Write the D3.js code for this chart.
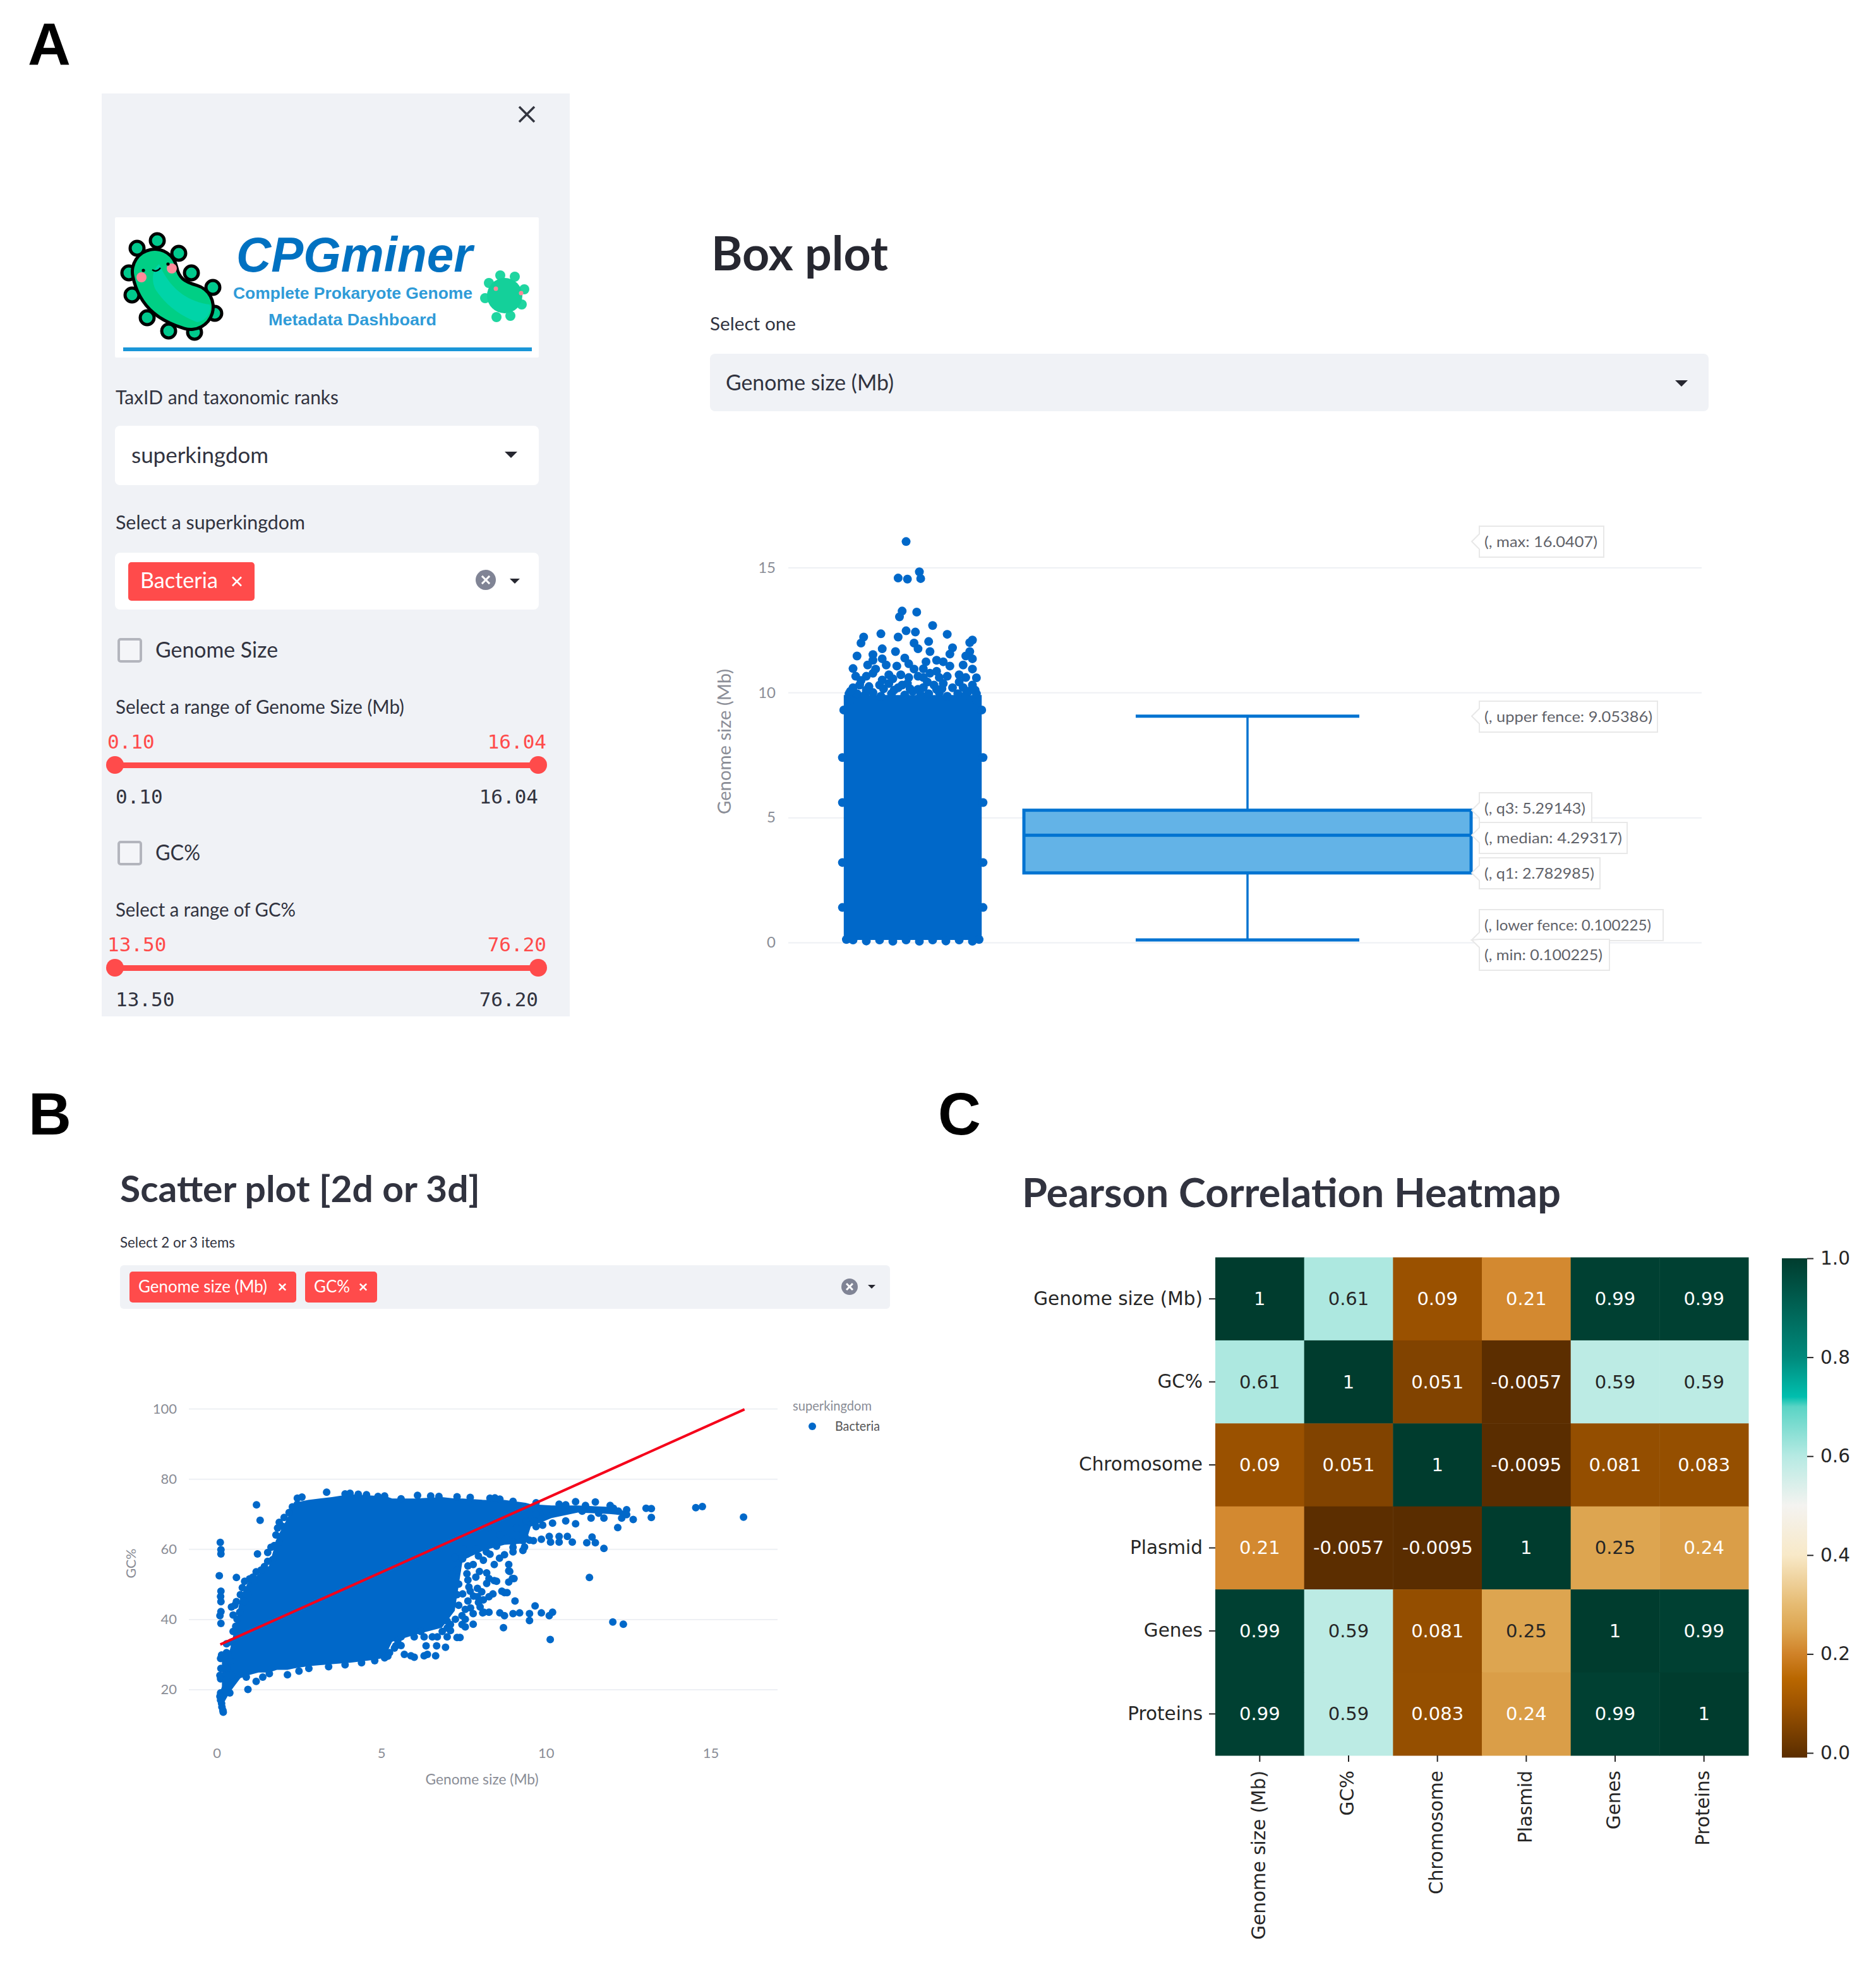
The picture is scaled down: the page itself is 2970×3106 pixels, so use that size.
<!DOCTYPE html>
<html>
<head>
<meta charset="utf-8">
<script src="https://cdn.jsdelivr.net/npm/d3@7"></script>
<style>
  body { margin: 0; background: #fff; }
  .axis .domain { display: none; }
</style>
</head>
<body>
<svg id="fig" width="2970" height="3106"></svg>
<script>
// ---- box plot values
const boxStats = { lowerFence: 0.100225, q1: 2.782985, median: 4.29317, q3: 5.29143, upperFence: 9.05386 };
const boxTicks = [0, 5, 10, 15];
const boxTagNames = ["max: 16.0407", "upper fence: 9.05386", "q3: 5.29143", "median: 4.29317", "q1: 2.782985", "lower fence: 0.100225", "min: 0.100225"];
const boxTagValues = [16.0407, 9.05386, 5.29143, 4.29317, 2.782985, 0.100225, 0.100225];
// saturated part of the strip, where the single points can no longer be told apart
const stripMassRange = [0.1, 9.9];
const stripMassSpan = [-0.02, 1.02];
// [strip position 0..1, genome size]
const stripPoints = [
  [.45,16.04],[.39,14.58],[.46,14.54],[.55,14.83],[.56,14.56],[.42,13.26],[.40,13.03],[.53,13.22],
  [.65,12.68],[.76,12.33],[.45,12.47],[.52,12.42],[.26,12.35],[.39,12.22],[.13,12.22],[.11,11.98],
  [.95,12.1],[.93,12.0],[.62,12.04],[.51,11.98],[.54,11.75],[.27,11.75],[.2,11.52],[.08,11.46],
  [.37,11.64],[.63,11.64],[.8,11.79],[.78,11.54],[.93,11.64],[.9,11.46],[.95,11.35],[.68,11.29],
  [.73,11.23],[.6,11.23],[.44,11.38],[.27,11.35],[.2,11.29],[.38,11.06],[.78,11.06],[.05,10.96],
  [.95,10.94],[.51,10.94],[.22,10.94],[.85,10.71],[.98,10.59],[.07,10.65],[.41,10.71],[.63,10.77],
  [.2,10.77],[.32,10.71],[.54,10.65],[.11,10.48],[.85,10.42],[.73,10.36],[.95,10.3],[.32,10.36],
  [.46,10.36],[.61,10.42],[.05,10.19],[.17,10.24],[.8,10.19],[.54,10.13],[.39,10.19],[.68,10.13],
  [.08,9.95],[.14,9.9],[.2,10],[.26,9.85],[.34,9.95],[.44,9.9],[.5,10.05],[.56,9.9],[.62,9.95],
  [.7,10],[.76,9.85],[.84,9.95],[.9,9.9],[.03,9.7],[.98,9.7],[.02,9.95],[.98,9.95],
  [.1,10.3],[.15,10.1],[.25,10.3],[.28,10.15],[.36,10.1],[.42,10.3],[.48,10.15],[.58,10.2],[.66,10.3],
  [.72,10.15],[.88,10.2],[.92,10.05],[.03,10.05],[.97,10.1],[.35,10.55],[.47,10.6],[.58,10.6],[.7,10.6],
  [.76,10.65],[.15,10.65],[.27,10.5],[.9,10.6],[.3,11.1],[.47,11.15],[.88,11.1],[.16,11.1],[.68,10.85],[.58,10.95],
  [-.02,9.3],[1.02,9.3],[-.03,7.4],[1.03,7.4],[-.03,5.6],[1.03,5.6],[-.03,3.2],[1.03,3.2],[-.03,1.4],[1.03,1.4],
  [.05,.1],[.15,.06],[.25,.1],[.35,.05],[.45,.1],[.55,.05],[.65,.1],[.75,.06],[.85,.1],[.95,.05],[1,.12],[0,.12]
];

// ---- scatter plot values
const scatterXTicks = [0, 5, 10, 15];
const scatterYTicks = [20, 40, 60, 80, 100];
const fitGenome = [0.11, 16.03];
const fitGC = [32.8, 99.8];
// envelope of the saturated cloud: genome size, upper GC%, lower GC%
const cloudGenome = [.16,.4,.56,.72,.95,1.27,1.59,1.83,2.15,2.35,2.78,3.5,4.05,4.77,5.09,5.33,6.04,6.84,7.23,7.47,8.11,8.74,9.38,9.54,10.17,10.97,11.92,12.4];
const cloudHigh = [29.6,31.2,37.6,46.4,50.4,52.8,55.2,63.2,68.8,73.2,74,74.8,75.6,75.2,75.2,74.4,74.4,74.8,74.4,74.4,74,74,73.2,72.8,72.4,72.4,72,70.8];
const cloudLow = [15.2,19.2,21.2,23.2,24,24.8,24.8,25.6,25.6,26,26.6,27.2,27.6,28.4,29,33.6,35.6,37.6,42.4,56.8,59.6,61.2,61.6,66.4,68.8,70.4,70,69.6];
// separately visible points: [genome size, GC%]
const scatterPoints = [
  [16,69.1],[14.55,71.8],[14.75,72.1],[13.04,71.6],[13.2,71.5],[13.2,69],[12.65,68.4],[12.45,71.2],[12.3,68.8],[12.18,66.1],
  [11.95,72.4],[12.05,71.6],[11.5,73.4],[10.9,73.5],[11.37,68.8],[11.76,68.8],[10.9,67.2],[10.6,68],[10.2,67.4],[9.9,66.8],
  [9.83,68.6],[9.38,66],[11.76,60.2],[11.5,61.8],[11.4,63.4],[11.24,61.8],[10.8,62],[10.65,63.6],[10.4,63.6],[10.4,62],
  [11.32,51.9],[12.03,39.2],[12.35,38.6],[10.13,34.2],[10.2,42],[10.1,41],[9.86,41.8],[9.67,43.8],[9.5,39.6],[9.5,41.6],
  [9.2,41.8],[9,41.6],[8.74,41],[8.6,41.8],[8.71,37.6],[8.27,42],[8.08,41.8],[7.79,38.6],[9.06,45.2],[8.74,47.6],[8.87,53.8],
  [8.98,51.6],[9.3,59.6],[9,59.2],[8.74,58.4],[8.59,57.4],[8.43,55.6],[8.2,53.2],[8.43,51],[8.2,50.2],[7.87,52],
  [1.21,72.6],[1.32,68.2],[.11,61.9],[.13,59.8],[.13,58.6],[1.24,58.6],[.08,52.4],[.6,51.9],[.13,48],[.12,46.5],[.13,45],[.13,42.2],
  [.1,41],[.13,38.8],[.95,20],[3.34,76.2],[7.39,34.8],[7.3,34.8],[6.95,32],[6.68,32.4],[6.36,32.4],[6.65,29.6],[6.4,30],[6,29.2],
  [5.7,30],[5.44,32.4],[5.1,29],[2.2,70.4],[2.05,69],[1.9,67.6],[2.45,74.5],[2.59,74.8],[3.9,75.7],[4.05,75.9],[4.3,75.6],[4.55,75.5],
  [4.9,75],[5.1,75.1],[5.6,74.3],[6.1,75.3],[6.5,75.1],[6.75,75],[7.3,74.9],[7.7,74.7],[8.3,74.5],[8.45,74.6],[8.6,74.2],[9,73.6],
  [9.7,73.2],[10.4,72.8],[10.6,72.6],[11.2,72.4],[1.7,57],[1.75,61],[1.8,64],[1.45,55],[1.35,54],[1.1,52],[1,51.5],[.85,50.8],
  [.78,49],[.72,47],[.55,44],[.45,43.5],[.6,45],[.62,40],[.58,38],[.3,30.5],[.15,29.8],[.12,28.8],[.13,26],[.1,24],[.3,26],[.12,23],
  [.3,22.8],[.12,19],[.1,18],[.12,17],[.15,16],[.16,15],[.19,14],[.2,13.5],[.9,23.5],[1.2,22.3],[1.4,23.5],[1.6,24.5],[2.15,24.2],
  [2.5,25.2],[2.8,26],[3.4,26.5],[3.9,27],[4.4,27.6],[4.8,28.2],[5.25,30.5],[5.4,31.8],[5.6,32.5],[5.9,29.6],[6.3,29.6],[7,35],[6.7,35],
  [6.3,35],[6.2,36.5],[7.15,52.8],[7.47,57.2],[7.23,57.6],[7.63,55.2],[7.79,55.6],[7.98,53.6],[7.63,51.2],[7.66,49.2],[7.92,48.8],
  [7.47,47.2],[7.92,46.4],[7.63,45.2],[7.95,44.8],[7.71,43.2],[7.55,42.8],[7.79,41.6],[8.11,42],[7.55,40],[8.27,46.4],[8.39,47.2],
  [8.66,48],[8.82,47.6],[8.5,50.8],[8.27,51.6],[8.9,53.6],[8.87,55.6],[9.03,51.6],[8.87,50.6],[9.62,62.4],[9.86,62.8],[10.1,63.6],
  [10.14,62],[9.7,66.4],[9.3,64.4],[9.38,63.2],[9,62],[8.5,60.8],[8.19,59.2],[7.87,60],
  [7.3,54],[7.35,50],[7.3,47],[7.35,44],[7.45,41],[7.25,40],[7.1,38.5],[7,39.5],[7.55,37.8],[7.6,53],[7.5,60],[7.6,58.5],[7.95,58],
  [8.1,56.8],[8.3,58.5],[7.7,48],[7.8,46.6],[8.05,47.8],[8.1,45.5],[8,43.5],[7.45,38.5],[7.1,36.8],
  [1.55,59],[1.65,60.5],[1.85,66],[2,66.5],[2.3,72],[2.45,72.8],[1.9,62],[1.55,56.5],[1.2,53.5],[1.15,51],[.95,47],[.85,45],[.7,42],
  [.5,41.2],[.5,36.5],[.45,33.5],[.3,33],[.35,30],[.42,28],[.45,24],[.32,21],[.4,19],[.25,20],
  [5.2,29.5],[5.5,34],[5.6,35],[6,35],[6.55,35],[6.85,36.5],[7,37.5],
  [9.1,66],[9.4,68],[9.7,70],[10,70.8],[9.65,68],[9.3,62.4],[8.8,63],[8.6,64],[8.25,66],[9,60.5],[9.35,60.6],[9.5,62.5],[10.35,71],
  [11.1,70.8],[11.6,70.2],[12.2,70.8],[12.45,69.8]
];

// ---- heatmap values
const heatLabels = ["Genome size (Mb)", "GC%", "Chromosome", "Plasmid", "Genes", "Proteins"];
const heatValues = [
  [1, 0.61, 0.09, 0.21, 0.99, 0.99],
  [0.61, 1, 0.051, -0.0057, 0.59, 0.59],
  [0.09, 0.051, 1, -0.0095, 0.081, 0.083],
  [0.21, -0.0057, -0.0095, 1, 0.25, 0.24],
  [0.99, 0.59, 0.081, 0.25, 1, 0.99],
  [0.99, 0.59, 0.083, 0.24, 0.99, 1]
];
const colorDomain = [-0.0095, 0.1, 0.15, 0.2, 0.25, 0.3, 0.4, 0.5, 0.6, 0.7, 0.72, 0.8, 1];
const colorRange = ["#5a2d00", "#a05500", "#b96700", "#d08228", "#dda550", "#e6bb72", "#f8e9c8", "#f4f3f0", "#b6eae3", "#5ad4c5", "#00bfae", "#008a7c", "#003c2e"];
const colorbarTicks = [0, 0.2, 0.4, 0.6, 0.8, 1];

const SANS = "Lato, 'Noto Sans', sans-serif";
const MONO = "'DejaVu Sans Mono', monospace";
const DEJAVU = "'DejaVu Sans', sans-serif";
const LIB = "'Liberation Sans', Arial, sans-serif";
const RED = "#ff4b4b", PANEL = "#f0f2f6", INK = "#31333f", DOT = "#0068c9", GRID = "#eef0f4", MUTED = "#8a8d96";

const svg = d3.select("#fig");

function put(parent, str, x, y, size, o = {}) {
  const t = parent.append("text").text(str)
    .attr("x", x).attr("y", y)
    .attr("font-size", size)
    .attr("font-family", o.family || SANS)
    .attr("font-weight", o.weight || 400)
    .attr("fill", o.fill || INK)
    .attr("text-anchor", o.anchor || "start");
  if (o.style) t.attr("font-style", o.style);
  if (o.width) t.attr("textLength", o.width).attr("lengthAdjust", "spacingAndGlyphs");
  if (o.rotate) t.attr("transform", `rotate(${o.rotate},${x},${y})`);
  return t;
}
function box(parent, x, y, w, h, fill, r = 6) {
  return parent.append("rect").attr("x", x).attr("y", y).attr("width", w).attr("height", h).attr("rx", r).attr("fill", fill);
}
function caret(parent, cx, cy, w, fill = "#262730") {
  parent.append("path").attr("fill", fill)
    .attr("d", `M${cx - w / 2},${cy - w / 4}h${w}l${-w / 2},${w / 2}z`);
}
function cross(parent, cx, cy, s, color, sw) {
  parent.append("path").attr("stroke", color).attr("stroke-width", sw).attr("fill", "none")
    .attr("d", `M${cx - s},${cy - s}L${cx + s},${cy + s}M${cx + s},${cy - s}L${cx - s},${cy + s}`);
}
function clearIcon(parent, cx, cy, r) {
  parent.append("circle").attr("cx", cx).attr("cy", cy).attr("r", r).attr("fill", "#808495");
  cross(parent, cx, cy, r * 0.38, "#fff", 3);
}
function redTag(parent, x, y, w, h, str, tx, tw, xx, size) {
  box(parent, x, y, w, h, RED, 5);
  put(parent, str, tx, y + h * 0.68, size, { fill: "#fff", width: tw });
  cross(parent, xx, y + h / 2, size * 0.2, "#fff", 2.6);
}
function styleAxis(g, size, fill, family, lineColor) {
  g.attr("class", "axis");
  g.selectAll("text").attr("font-size", size).attr("font-family", family).attr("fill", fill);
  g.selectAll("line").attr("stroke", lineColor).attr("stroke-width", 2);
}

// panel letters
[["A", 44, 103], ["B", 45, 1796], ["C", 1485, 1796]].forEach(d =>
  put(svg, d[0], d[1], d[2], 94, { family: LIB, weight: 700, fill: "#000" }));

// ---- panel A, sidebar
const side = svg.append("g");
side.append("rect").attr("x", 161).attr("y", 148).attr("width", 741).attr("height", 1461).attr("fill", PANEL);
cross(side, 834, 181, 12, "#33353f", 3.5);

// logo
box(side, 182, 344, 671, 222, "#fff", 2);
const logo = side.append("g");
[[249,381],[283,401],[303,432],[337,455],[340,496],[308,526],[267,524],[233,503],[209,467],[204,432],[217,393]].forEach(p =>
  logo.append("circle").attr("cx", p[0]).attr("cy", p[1]).attr("r", 11).attr("fill", "#00c98d").attr("stroke", "#000").attr("stroke-width", 5));
const beanPath = "M245,430C252,465 275,478 302,486";
logo.append("path").attr("d", beanPath).attr("fill", "none").attr("stroke", "#000").attr("stroke-width", 76).attr("stroke-linecap", "round");
logo.append("path").attr("d", beanPath).attr("fill", "none").attr("stroke", "#00cf85").attr("stroke-width", 66).attr("stroke-linecap", "round");
logo.append("path").attr("d", "M246,458C262,482 282,498 312,510C328,508 336,492 332,482C300,478 270,460 252,418C240,428 240,446 246,458z").attr("fill", "#00d4a8");
[[224,439],[272,425]].forEach(p => logo.append("circle").attr("cx", p[0]).attr("cy", p[1]).attr("r", 8).attr("fill", "#ff8a9a"));
[[227,428],[266,418]].forEach(p => logo.append("circle").attr("cx", p[0]).attr("cy", p[1]).attr("r", 2.6).attr("fill", "#000"));
logo.append("path").attr("d", "M241,427q7,5 13,-3").attr("fill", "none").attr("stroke", "#000").attr("stroke-width", 2.4);
[[768,472],[774,448],[792,436],[815,438],[830,458],[826,482],[808,500],[786,502]].forEach(p =>
  logo.append("circle").attr("cx", p[0]).attr("cy", p[1]).attr("r", 8).attr("fill", "#1fd5a0"));
logo.append("circle").attr("cx", 799).attr("cy", 468).attr("r", 28).attr("fill", "#14d09a");
[[785,457],[825,464]].forEach(p => logo.append("circle").attr("cx", p[0]).attr("cy", p[1]).attr("r", 3.5).attr("fill", "#ff8a9a"));
put(side, "CPGminer", 374, 430, 78, { family: LIB, weight: 700, style: "italic", fill: "#0071c1", width: 374 });
put(side, "Complete Prokaryote Genome", 369, 473, 26, { family: LIB, weight: 700, fill: "#2f9bd8", width: 379 });
put(side, "Metadata Dashboard", 425, 515, 26, { family: LIB, weight: 700, fill: "#2f9bd8", width: 266 });
side.append("rect").attr("x", 195).attr("y", 550).attr("width", 647).attr("height", 6).attr("fill", "#1a96d8");

// selects and sliders
put(side, "TaxID and taxonomic ranks", 183, 640, 30, { width: 353 });
box(side, 182, 674, 671, 94, "#fff", 8);
put(side, "superkingdom", 208, 733, 35, { width: 217 });
caret(side, 809, 720, 20);
put(side, "Select a superkingdom", 183, 838, 30, { width: 300 });
box(side, 182, 875, 671, 90, "#fff", 8);
redTag(side, 203, 890, 200, 61, "Bacteria", 222, 123, 375, 35);
clearIcon(side, 769, 918, 16);
caret(side, 815, 920, 16);

function sliderGroup(top, label, rangeLabel, rangeWidth, lo, hi) {
  side.append("rect").attr("x", 188).attr("y", top).attr("width", 35).attr("height", 35).attr("rx", 3)
    .attr("fill", "#f4f5f8").attr("stroke", "#b3b5bd").attr("stroke-width", 4);
  put(side, label[0], 246, top + 29, 35, { width: label[1] });
  put(side, rangeLabel, 183, top + 118, 30, { width: rangeWidth });
  put(side, lo, 170, top + 173, 31, { family: MONO, fill: RED });
  put(side, hi, 865, top + 173, 31, { family: MONO, fill: RED, anchor: "end" });
  side.append("rect").attr("x", 182).attr("y", top + 195).attr("width", 671).attr("height", 9).attr("fill", RED);
  [182, 852].forEach(cx => side.append("circle").attr("cx", cx).attr("cy", top + 199).attr("r", 14).attr("fill", RED));
  put(side, lo, 183, top + 260, 31, { family: MONO });
  put(side, hi, 852, top + 260, 31, { family: MONO, anchor: "end" });
}
sliderGroup(1012, ["Genome Size", 194], "Select a range of Genome Size (Mb)", 457, "0.10", "16.04");
sliderGroup(1333, ["GC%", 71], "Select a range of GC%", 285, "13.50", "76.20");

// ---- panel A, box plot
const boxPanel = svg.append("g");
put(boxPanel, "Box plot", 1126, 428, 74, { weight: 700, fill: "#262730", width: 280 });
put(boxPanel, "Select one", 1124, 523, 29, { width: 136 });
box(boxPanel, 1124, 560, 1581, 91, PANEL, 8);
put(boxPanel, "Genome size (Mb)", 1149, 618, 35, { width: 266 });
caret(boxPanel, 2662, 607, 20);

const boxY = d3.scaleLinear().domain([0, 15]).range([1492, 898.5]);
const stripX = d3.scaleLinear().domain([0, 1]).range([1340, 1550]);
const boxX = d3.scaleLinear().domain([0, 1]).range([1621, 2329]);

const boxAxis = boxPanel.append("g").attr("transform", "translate(1248,0)")
  .call(d3.axisLeft(boxY).tickValues(boxTicks).tickSize(-1446).tickPadding(20));
styleAxis(boxAxis, 24, MUTED, SANS, GRID);

put(boxPanel, "Genome size (Mb)", 1157, 1174, 28, { fill: MUTED, anchor: "middle", rotate: -90, width: 230 });

boxPanel.append("rect").attr("x", stripX(stripMassSpan[0])).attr("width", stripX(stripMassSpan[1]) - stripX(stripMassSpan[0]))
  .attr("y", boxY(stripMassRange[1])).attr("height", boxY(stripMassRange[0]) - boxY(stripMassRange[1]))
  .attr("fill", DOT);
boxPanel.selectAll("circle.strip").data(stripPoints).join("circle").attr("class", "strip")
  .attr("cx", d => stripX(d[0])).attr("cy", d => boxY(d[1])).attr("r", 7).attr("fill", DOT);

const BOXLINE = "#0073d1";
const midX = boxX(0.5);
[[boxStats.q3, boxStats.upperFence], [boxStats.lowerFence, boxStats.q1]].forEach(s =>
  boxPanel.append("line").attr("x1", midX).attr("x2", midX).attr("y1", boxY(s[0])).attr("y2", boxY(s[1]))
    .attr("stroke", BOXLINE).attr("stroke-width", 3.5));
[boxStats.upperFence, boxStats.lowerFence].forEach(v =>
  boxPanel.append("line").attr("x1", boxX(0.25)).attr("x2", boxX(0.75)).attr("y1", boxY(v)).attr("y2", boxY(v))
    .attr("stroke", BOXLINE).attr("stroke-width", 5));
boxPanel.append("rect").attr("x", boxX(0)).attr("width", boxX(1) - boxX(0))
  .attr("y", boxY(boxStats.q3)).attr("height", boxY(boxStats.q1) - boxY(boxStats.q3))
  .attr("fill", "#63b3e7").attr("stroke", BOXLINE).attr("stroke-width", 5);
boxPanel.append("line").attr("x1", boxX(0)).attr("x2", boxX(1)).attr("y1", boxY(boxStats.median)).attr("y2", boxY(boxStats.median))
  .attr("stroke", BOXLINE).attr("stroke-width", 5);

// hover style tags beside the box: top and size of each tag box
const tagTops = [833, 1110, 1255, 1302, 1358, 1440, 1487];
const tagWidths = [197, 282, 178, 234, 191, 291, 206];
const tagTextWidths = [179, 266, 160, 218, 174, 264, 187];
const TAG_H = 49, TAG_X = 2342, TIP_X = 2330;
boxTagNames.forEach((name, i) => {
  const top = tagTops[i], target = boxY(boxTagValues[i]);
  const n0 = Math.max(top, target - 12), n1 = Math.min(top + TAG_H, target + 12);
  boxPanel.append("path")
    .attr("d", `M${TAG_X},${top}h${tagWidths[i]}v${TAG_H}h${-tagWidths[i]}V${n1}L${TIP_X},${target}L${TAG_X},${n0}Z`)
    .attr("fill", "#fff").attr("stroke", "#e8e8e8").attr("stroke-width", 2);
  put(boxPanel, `(, ${name})`, 2350, top + 33, 24, { fill: "#5f6269", width: tagTextWidths[i] });
});

// ---- panel B, scatter
const scatter = svg.append("g");
put(scatter, "Scatter plot [2d or 3d]", 190, 1903, 58, { weight: 700, width: 570 });
put(scatter, "Select 2 or 3 items", 190, 1975, 23, { width: 182 });
box(scatter, 190, 2003, 1219, 69, PANEL, 6);
redTag(scatter, 205, 2013, 264, 49, "Genome size (Mb)", 219, 204, 447, 26);
redTag(scatter, 483, 2013, 114, 49, "GC%", 497, 57, 575, 26);
clearIcon(scatter, 1345, 2037, 13);
caret(scatter, 1380, 2037, 12);

const scX = d3.scaleLinear().domain([0, 15]).range([343, 1125]);
const scY = d3.scaleLinear().domain([20, 100]).range([2674.5, 2230]);

const scYAxis = scatter.append("g").attr("transform", "translate(299,0)")
  .call(d3.axisLeft(scY).tickValues(scatterYTicks).tickSize(-932).tickPadding(19));
styleAxis(scYAxis, 22, MUTED, SANS, GRID);
const scXAxis = scatter.append("g").attr("transform", "translate(0,2755)")
  .call(d3.axisBottom(scX).tickValues(scatterXTicks).tickSize(0).tickPadding(12));
styleAxis(scXAxis, 22, MUTED, SANS, GRID);
put(scatter, "Genome size (Mb)", 763, 2825, 24, { fill: MUTED, anchor: "middle", width: 179 });
put(scatter, "GC%", 215, 2475, 22, { fill: MUTED, anchor: "middle", rotate: -90, width: 47 });

const cloud = d3.area().x(d => scX(d[0])).y0(d => scY(d[2])).y1(d => scY(d[1]));
scatter.append("path").attr("d", cloud(d3.zip(cloudGenome, cloudHigh, cloudLow))).attr("fill", DOT);
scatter.selectAll("circle.pt").data(scatterPoints).join("circle").attr("class", "pt")
  .attr("cx", d => scX(d[0])).attr("cy", d => scY(d[1])).attr("r", 6).attr("fill", DOT);
const fitLine = d3.line().x(d => scX(d[0])).y(d => scY(d[1]));
scatter.append("path").attr("d", fitLine(d3.zip(fitGenome, fitGC)))
  .attr("fill", "none").attr("stroke", "#f5001a").attr("stroke-width", 4);

put(scatter, "superkingdom", 1255, 2233, 22, { fill: MUTED, width: 125 });
scatter.append("circle").attr("cx", 1286).attr("cy", 2258).attr("r", 6).attr("fill", DOT);
put(scatter, "Bacteria", 1322, 2265, 22, { fill: "#555", width: 71 });

// ---- panel C, heatmap
const heat = svg.append("g");
put(heat, "Pearson Correlation Heatmap", 1618, 1911, 64, { weight: 700, width: 853 });

const hx = d3.scaleBand().domain(heatLabels).range([1924, 2768]);
const hy = d3.scaleBand().domain(heatLabels).range([1990.5, 2779]);
const heatColor = d3.scaleLinear().domain(colorDomain).range(colorRange);

heatValues.forEach((row, r) => row.forEach((v, c) => {
  heat.append("rect")
    .attr("x", hx(heatLabels[c])).attr("y", hy(heatLabels[r]))
    .attr("width", hx.bandwidth() + 0.5).attr("height", hy.bandwidth() + 0.5)
    .attr("fill", heatColor(v));
  const dark = v >= 0.25 && v <= 0.75;
  put(heat, String(v), hx(heatLabels[c]) + hx.bandwidth() / 2, hy(heatLabels[r]) + hy.bandwidth() / 2 + 10, 29,
    { family: DEJAVU, anchor: "middle", fill: dark ? "#262626" : "#fff" });
}));

const hLeft = heat.append("g").attr("transform", "translate(1924,0)")
  .call(d3.axisLeft(hy).tickSize(10).tickPadding(10));
styleAxis(hLeft, 29.5, "#262626", DEJAVU, "#262626");
const hBottom = heat.append("g").attr("transform", "translate(0,2779)")
  .call(d3.axisBottom(hx).tickSize(10));
styleAxis(hBottom, 29.5, "#262626", DEJAVU, "#262626");
hBottom.selectAll("text").attr("transform", "rotate(-90)").attr("text-anchor", "end")
  .attr("x", -24).attr("y", -2).attr("dy", "0.35em");

// colorbar
const cbY = d3.scaleLinear().domain([0, 1]).range([2775, 1992]);
const grad = svg.append("defs").append("linearGradient").attr("id", "cb")
  .attr("x1", 0).attr("x2", 0).attr("y1", 1).attr("y2", 0);
colorDomain.forEach((v, i) => grad.append("stop")
  .attr("offset", (v - colorDomain[0]) / (1 - colorDomain[0]))
  .attr("stop-color", colorRange[i]));
heat.append("rect").attr("x", 2821).attr("width", 40)
  .attr("y", cbY(1)).attr("height", cbY(colorDomain[0]) - cbY(1)).attr("fill", "url(#cb)");
const cbAxis = heat.append("g").attr("transform", "translate(2861,0)")
  .call(d3.axisRight(cbY).tickValues(colorbarTicks).tickFormat(d3.format(".1f")).tickSize(10).tickPadding(11));
styleAxis(cbAxis, 29.5, "#262626", DEJAVU, "#262626");
</script>
</body>
</html>
